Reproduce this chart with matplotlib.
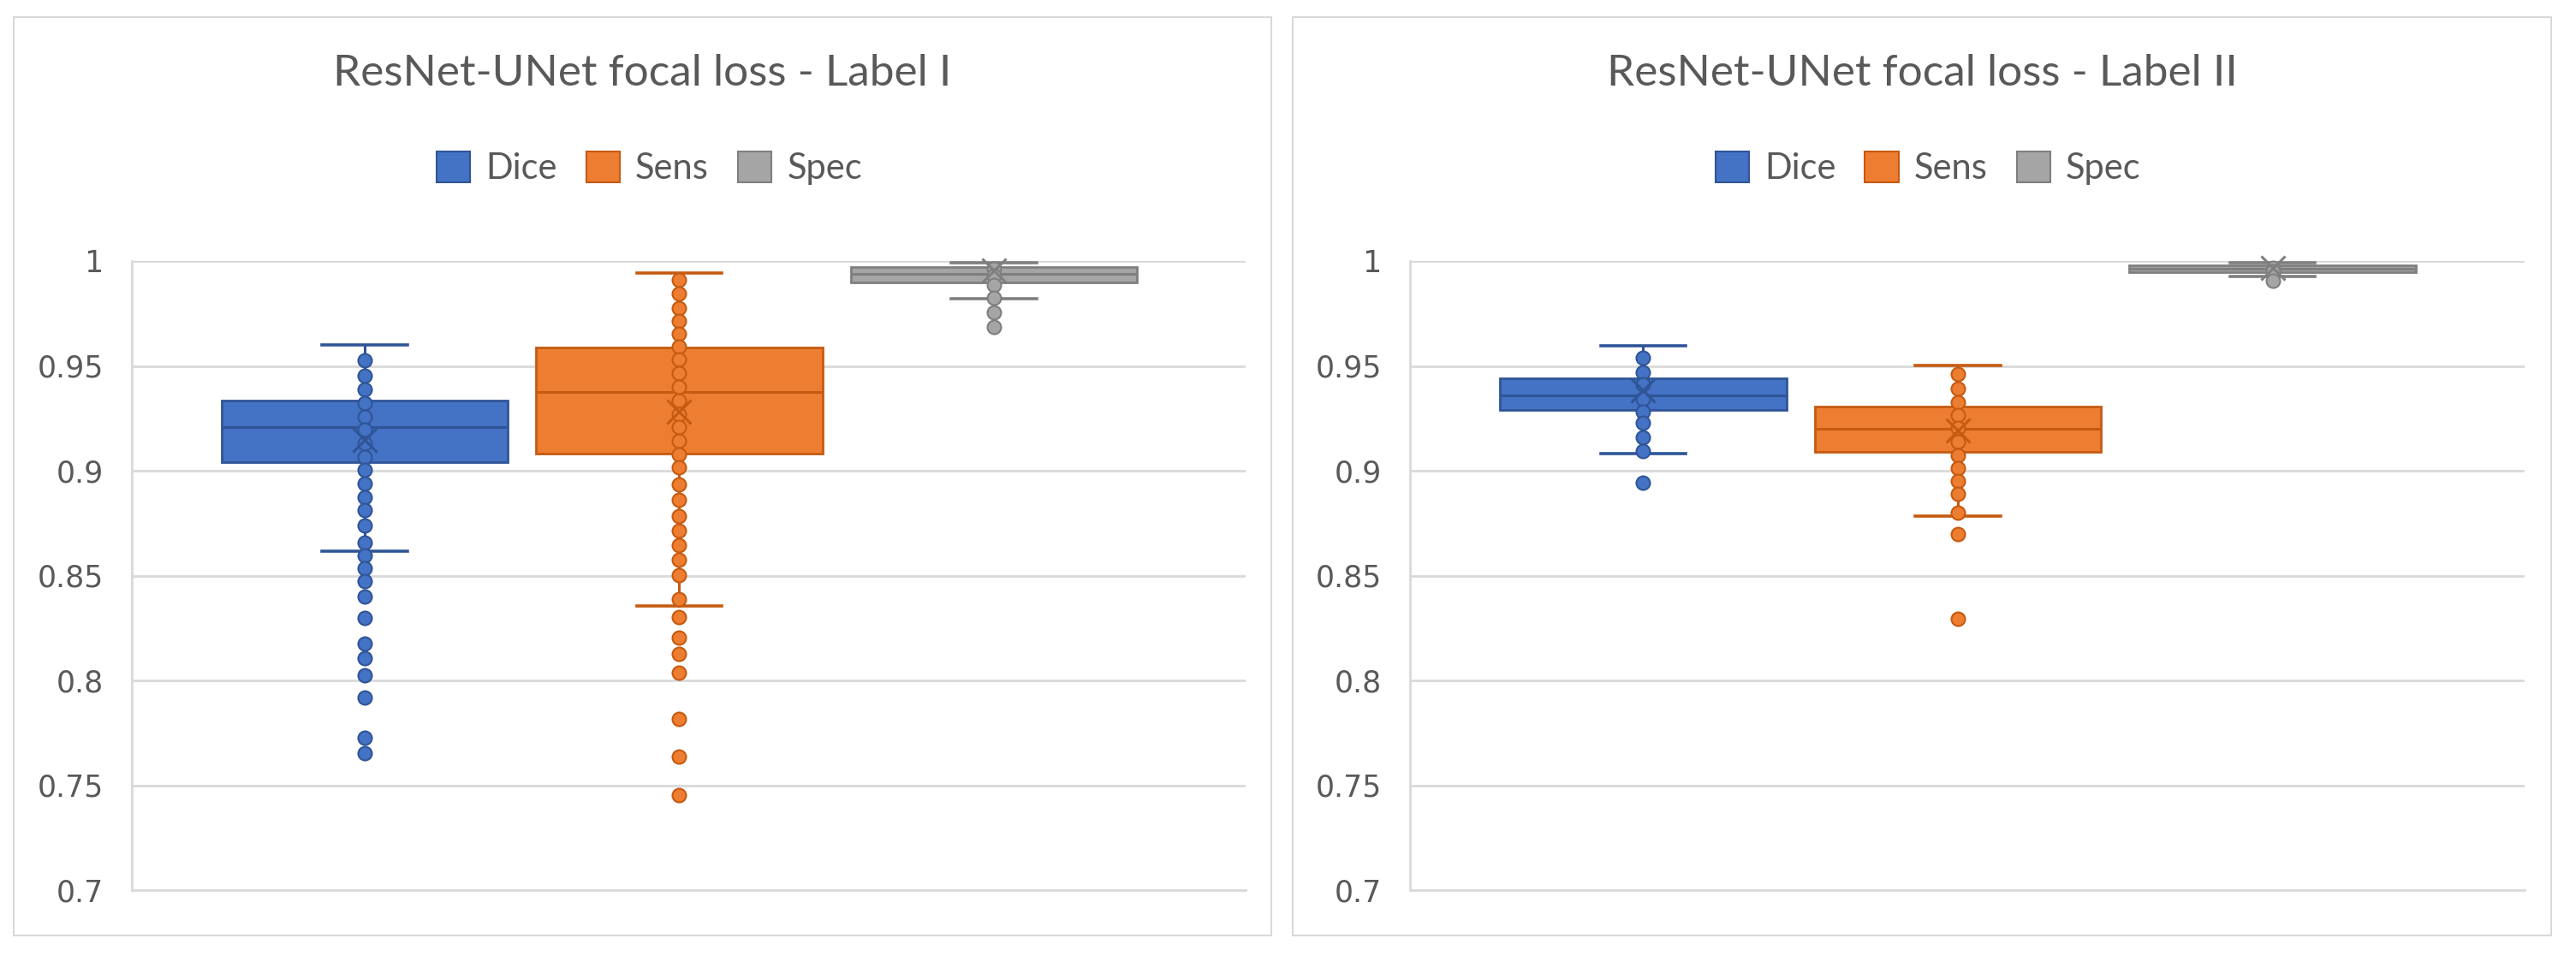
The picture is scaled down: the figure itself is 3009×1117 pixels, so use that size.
import numpy as np
import matplotlib.pyplot as plt
from matplotlib.patches import Patch, Rectangle

plt.rcParams['font.family'] = ['Lato', 'DejaVu Sans']

# series and colours (Excel default palette)
series = ['Dice', 'Sens', 'Spec']
fills = ['#4472C4', '#ED7D31', '#A5A5A5']
edges = ['#2F5597', '#C55A11', '#7F7F7F']
titles = ['ResNet-UNet focal loss - Label I', 'ResNet-UNet focal loss - Label II']

# Label I box statistics (Dice, Sens, Spec)
q1_l1 = [0.904, 0.908, 0.990]
med_l1 = [0.921, 0.9375, 0.9937]
q3_l1 = [0.9335, 0.9587, 0.9971]
lo_l1 = [0.8617, 0.8354, 0.982]
hi_l1 = [0.960, 0.9942, 0.9993]
mean_l1 = [0.9146, 0.928, 0.9955]

dice_pts_l1 = [0.9525, 0.9452, 0.9388, 0.9321, 0.9258, 0.9196, 0.9131, 0.9067,
               0.9004, 0.8938, 0.8875, 0.8813, 0.8738, 0.8658, 0.8596, 0.8533,
               0.8473, 0.8400, 0.8300, 0.8175, 0.8108, 0.8025, 0.7917, 0.7727, 0.7654]
sens_pts_l1 = [0.9910, 0.9846, 0.9775, 0.9715, 0.9654, 0.9592, 0.9529, 0.9465,
               0.9400, 0.9333, 0.9271, 0.9208, 0.9144, 0.9079, 0.9015, 0.8933,
               0.8860, 0.8785, 0.8715, 0.8646, 0.8577, 0.8502, 0.8388, 0.8304,
               0.8204, 0.8127, 0.8037, 0.7815, 0.7635, 0.7452]
spec_pts_l1 = [0.9965, 0.9930, 0.9887, 0.9826, 0.9755, 0.9684]

# Label II box statistics
q1_l2 = [0.9289, 0.909, 0.9946]
med_l2 = [0.936, 0.920, 0.9963]
q3_l2 = [0.9441, 0.9305, 0.998]
lo_l2 = [0.908, 0.8783, 0.9925]
hi_l2 = [0.9597, 0.9501, 0.9992]
mean_l2 = [0.9384, 0.9193, 0.9966]

dice_pts_l2 = [0.9540, 0.9471, 0.9411, 0.9343, 0.9282, 0.9228, 0.9161, 0.9093, 0.8941]
sens_pts_l2 = [0.9463, 0.9390, 0.9327, 0.9267, 0.9203, 0.9139, 0.9074, 0.9012,
               0.8951, 0.8890, 0.8802, 0.8700, 0.8292]
spec_pts_l2 = [0.9966, 0.9950, 0.9905]

yticks = [0.7, 0.75, 0.8, 0.85, 0.9, 0.95, 1.0]

W, H = 3009, 1117
fig = plt.figure(figsize=(W / 100, H / 100), dpi=100)

grey = '#d9d9d9'
txt = '#595959'


def draw_panel(ax, q1, med, q3, lo, hi, mean, pts):
    stats = []
    for i in range(3):
        stats.append(dict(q1=q1[i], med=med[i], q3=q3[i], whislo=lo[i],
                          whishi=hi[i], mean=mean[i], fliers=[]))
    pos = [0, 1, 2]
    res = ax.bxp(stats, positions=pos, widths=0.91, capwidths=0.27,
                 patch_artist=True, showfliers=False, showmeans=False)
    for i in range(3):
        b = res['boxes'][i]
        b.set_facecolor(fills[i])
        b.set_edgecolor(edges[i])
        b.set_linewidth(2)
        b.set_zorder(2)
        res['medians'][i].set(color=edges[i], linewidth=2.2, zorder=2.5)
        for k in (2 * i, 2 * i + 1):
            res['whiskers'][k].set(color=edges[i], linewidth=2.2, zorder=1.5)
            res['caps'][k].set(color=edges[i], linewidth=2.6, zorder=1.5, clip_on=False)
        ax.plot(np.full(len(pts[i]), pos[i]), pts[i], 'o', ms=11.5,
                mfc=fills[i], mec=edges[i], mew=1.5, zorder=3, clip_on=False)
        ax.plot([pos[i]], [mean[i]], 'x', ms=20, mec=edges[i], mew=2.2,
                zorder=4, clip_on=False)

    ax.set_xlim(-0.74, 2.80)
    ax.set_ylim(0.7, 1.0)
    ax.set_yticks(yticks)
    ax.set_yticklabels(['%g' % v for v in yticks], family='DejaVu Sans')
    ax.set_xticks([])
    ax.tick_params(length=0, labelsize=25, labelcolor=txt, pad=24)
    ax.grid(axis='y', color=grey, linewidth=2)
    ax.set_axisbelow(True)
    for s in ('top', 'right'):
        ax.spines[s].set_visible(False)
    for s in ('left', 'bottom'):
        ax.spines[s].set_color(grey)
        ax.spines[s].set_linewidth(2)

    handles = [Patch(facecolor=fills[i], edgecolor=edges[i], linewidth=1.5) for i in range(3)]
    ax.legend(handles, series, loc='center', bbox_to_anchor=(0.4647, 1.148), ncol=3,
              frameon=False, fontsize=30, handlelength=0.94, handleheight=0.96,
              handletextpad=0.43, columnspacing=0.82, labelcolor=txt)


panels = [(16, 1485, 154, 1455), (1510, 2980, 1647, 2949)]
data = [(q1_l1, med_l1, q3_l1, lo_l1, hi_l1, mean_l1, [dice_pts_l1, sens_pts_l1, spec_pts_l1]),
        (q1_l2, med_l2, q3_l2, lo_l2, hi_l2, mean_l2, [dice_pts_l2, sens_pts_l2, spec_pts_l2])]

for p, d, t in zip(panels, data, titles):
    bx0, bx1, ax0, ax1 = p
    fig.patches.append(Rectangle((bx0 / W, 1 - 1093 / H), (bx1 - bx0) / W, (1093 - 20) / H,
                                 transform=fig.transFigure, fill=False, ec=grey, lw=1.5))
    ax = fig.add_axes([ax0 / W, 1 - 1040 / H, (ax1 - ax0) / W, 735 / H])
    draw_panel(ax, *d)
    fig.text((bx0 + bx1) / 2 / W, 1 - 86 / H, t, ha='center', va='center',
             fontsize=37, color=txt)

fig.savefig('out.png', dpi=100)
